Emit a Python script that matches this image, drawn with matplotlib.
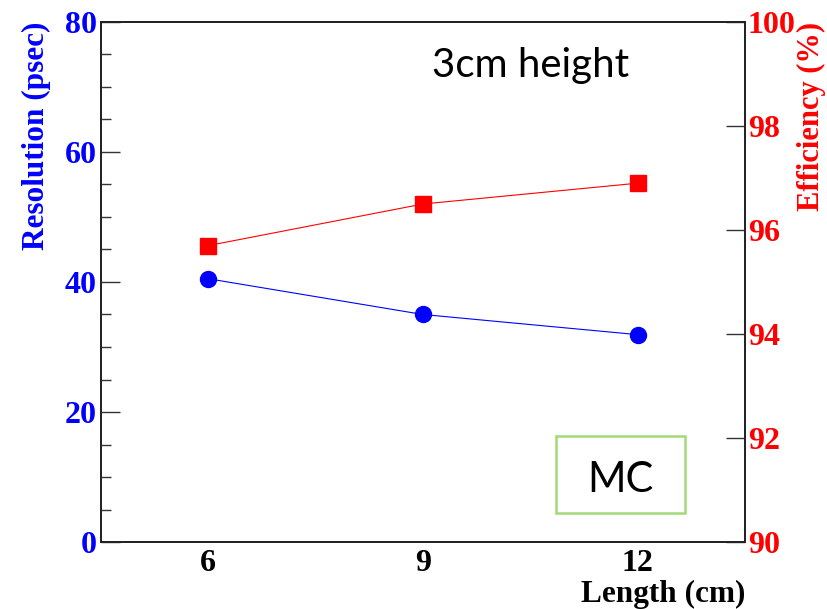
import matplotlib
matplotlib.use('Agg')
import matplotlib.pyplot as plt
from matplotlib.patches import Rectangle
from matplotlib.ticker import MultipleLocator

# scintillator length scan, 3cm height (MC)
length_cm = [6, 9, 12]
resolution_ps = [40.5, 35.0, 31.9]
efficiency_pct = [95.7, 96.5, 96.9]

serif = 'Liberation Serif'
plain = 'Lato'

fig = plt.figure(figsize=(8.27, 6.09), dpi=100)
ax = fig.add_axes([0.1221, 0.110, 0.7787, 0.8539])
ax2 = ax.twinx()

# resolution on the left axis
ax.plot(length_cm, resolution_ps, color='#0000ff', lw=0.8,
        marker='o', ms=11.5, mec='#0000ff', mfc='#0000ff')
ax.set_xlim(4.5, 13.5)
ax.set_ylim(0, 80)
ax.yaxis.set_major_locator(MultipleLocator(20))
ax.yaxis.set_minor_locator(MultipleLocator(5))
ax.set_xticks(length_cm)
ax.tick_params(axis='y', which='major', direction='in', length=14, width=1.0,
               color='#333333', labelcolor='#0000ff', labelsize=23, pad=3)
ax.tick_params(axis='y', which='minor', direction='in', length=7, width=1.0,
               color='#333333')
ax.tick_params(axis='x', length=0, labelsize=23, pad=5)
for lab in ax.get_xticklabels() + ax.get_yticklabels():
    lab.set_fontfamily(serif)
    lab.set_fontweight('bold')
ax.set_ylabel('Resolution (psec)', color='#0000ff', fontsize=22.5,
              fontfamily=serif, fontweight='bold', loc='top', va='center')
ax.yaxis.set_label_coords(-0.100, 1.0)
ax.set_xlabel('Length (cm)', fontsize=22.5, fontfamily=serif,
              fontweight='bold', loc='right', va='center')
ax.xaxis.set_label_coords(1.0, -0.101)

# efficiency on the right axis
ax2.plot(length_cm, efficiency_pct, color='#ff0000', lw=0.8,
         marker='s', ms=11.5, mec='#ff0000', mfc='#ff0000')
ax2.set_ylim(90, 100)
ax2.yaxis.set_major_locator(MultipleLocator(2))
ax2.tick_params(axis='y', which='major', direction='in', length=14, width=1.0,
                color='#333333', labelcolor='#ff0000', labelsize=23, pad=2)
for lab in ax2.get_yticklabels():
    lab.set_fontfamily(serif)
    lab.set_fontweight('bold')
ax2.set_ylabel('Efficiency (%)', color='#ff0000', fontsize=22,
               fontfamily=serif, fontweight='bold', loc='top', va='center')
ax2.yaxis.set_label_coords(1.103, 1.0)

for a in (ax, ax2):
    for sp in a.spines.values():
        sp.set_linewidth(1.3)
        sp.set_color('#222222')

ax.text(0.514, 0.894, '3cm height', transform=ax.transAxes, fontsize=29,
        fontfamily=plain, ha='left', va='baseline')

ax.add_patch(Rectangle((0.7065, 0.0558), 0.2, 0.148, transform=ax.transAxes,
                       fill=False, ec='#a3d977', lw=1.8))
ax.text(0.806, 0.119, 'MC', transform=ax.transAxes, fontsize=30,
        fontfamily=plain, ha='center', va='center')

fig.savefig('out.png', dpi=100)
